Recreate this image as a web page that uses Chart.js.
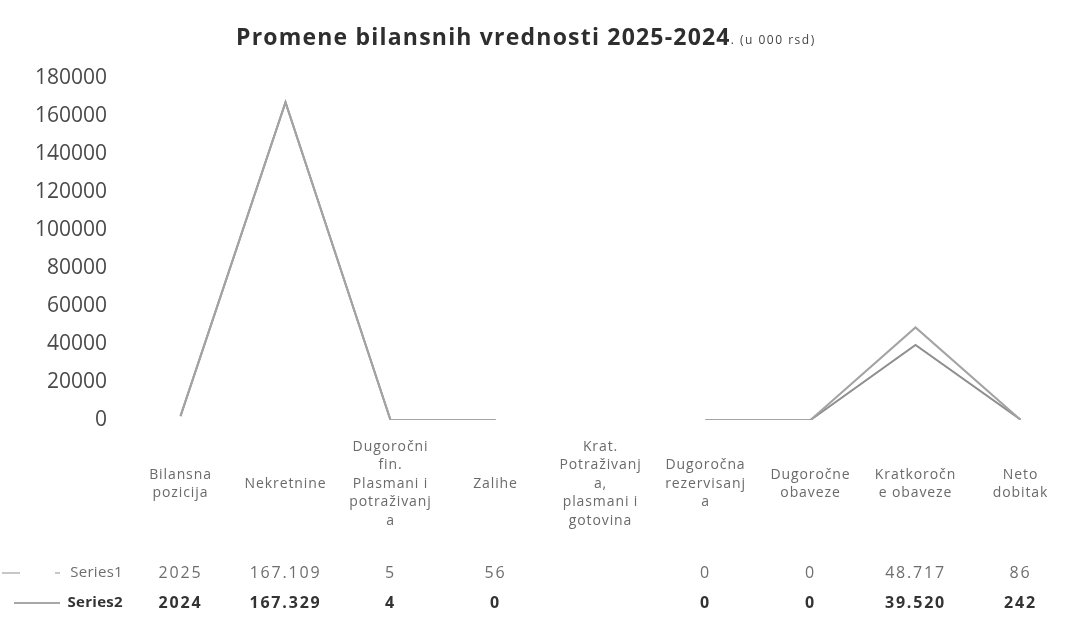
<!DOCTYPE html>
<html>
<head>
<meta charset="utf-8">
<script src="https://cdn.jsdelivr.net/npm/chart.js@4/dist/chart.umd.min.js"></script>
<style>
  html,body{margin:0;padding:0;background:#fff;}
  #wrap{width:1074px;height:628px;position:relative;}
</style>
</head>
<body>
<div id="wrap"><canvas id="c" width="1074" height="628"></canvas></div>
<script>
// ---- data ----
const categories = [
  ["Bilansna","pozicija"],
  ["Nekretnine"],
  ["Dugoročni","fin.","Plasmani i","potraživanj","a"],
  ["Zalihe"],
  ["Krat.","Potraživanj","a,","plasmani i","gotovina"],
  ["Dugoročna","rezervisanj","a"],
  ["Dugoročne","obaveze"],
  ["Kratkoročn","e obaveze"],
  ["Neto","dobitak"]
];
const seriesNames = ["Series1","Series2"];
const series1 = [2025, 167109, 5, 56, null, 0, 0, 48717, 86];
const series2 = [2024, 167329, 4, 0, null, 0, 0, 39520, 242];
const yTicks = [0,20000,40000,60000,80000,100000,120000,140000,160000,180000];
const titleMain = "Promene bilansnih vrednosti 2025-2024";
const titleSub = ". (u 000 rsd)";

function fmt(v, i){
  if (v === null || v === undefined) return "";
  if (i === 0) return String(v);
  return String(v).replace(/\B(?=(\d{3})+(?!\d))/g, ".");
}

const FONT = '"Open Sans", "Noto Sans", sans-serif';

function spaced(ctx, px){ if ('letterSpacing' in ctx) ctx.letterSpacing = px + 'px'; }

const deco = {
  id: 'deco',
  afterDraw(chart){
    const ctx = chart.ctx;
    const xs = chart.scales.x;
    ctx.save();
    // title
    ctx.textBaseline = 'alphabetic';
    ctx.textAlign = 'left';
    ctx.fillStyle = '#2e2e2e';
    ctx.font = 'bold 23px ' + FONT;
    spaced(ctx, 1.2);
    ctx.fillText(titleMain, 236, 45);
    const w = ctx.measureText(titleMain).width;
    ctx.font = '12px ' + FONT;
    spaced(ctx, 1.5);
    ctx.fillStyle = '#444';
    ctx.fillText(titleSub, 236 + w, 44);

    // category header rows
    ctx.textAlign = 'center';
    ctx.textBaseline = 'middle';
    ctx.font = '14px ' + FONT;
    spaced(ctx, 0.9);
    ctx.fillStyle = '#6a6a6a';
    const lh = 18.5;
    categories.forEach((lines, i) => {
      const cx = xs.getPixelForValue(i);
      const y0 = 484 - (lines.length - 1) * lh / 2;
      lines.forEach((t, j) => ctx.fillText(t, cx, y0 + j * lh));
    });

    // value rows
    const rows = [
      {name: seriesNames[0], data: series1, y: 573, bold: false, color: '#6e6e6e', line: '#b5b5b5'},
      {name: seriesNames[1], data: series2, y: 603, bold: true, color: '#333', line: '#8a8a8a'}
    ];
    rows.forEach(r => {
      ctx.font = (r.bold ? 'bold ' : '') + '16px ' + FONT;
      spaced(ctx, 1.8);
      ctx.fillStyle = r.color;
      r.data.forEach((v, i) => {
        ctx.fillText(fmt(v, i), xs.getPixelForValue(i), r.y);
      });
      // legend key
      ctx.textAlign = 'right';
      ctx.font = (r.bold ? 'bold ' : '') + '15px ' + FONT;
      spaced(ctx, 0.3);
      ctx.fillText(r.name, 123, r.y);
      ctx.textAlign = 'center';
      ctx.strokeStyle = r.line;
      ctx.lineWidth = 1.5;
      ctx.beginPath();
      if (r.bold) { ctx.moveTo(14, r.y); ctx.lineTo(60, r.y); }
      else { ctx.moveTo(2, r.y); ctx.lineTo(20, r.y); ctx.moveTo(55, r.y); ctx.lineTo(60, r.y); }
      ctx.stroke();
    });
    ctx.restore();
  }
};

new Chart(document.getElementById('c'), {
  type: 'line',
  data: {
    labels: categories.map(l => l.join(' ')),
    datasets: [
      {label: seriesNames[0], data: series1, borderColor: '#a3a3a3', borderWidth: 2, pointRadius: 0, tension: 0, spanGaps: false},
      {label: seriesNames[1], data: series2, borderColor: '#8e8e8e', borderWidth: 2, pointRadius: 0, tension: 0, spanGaps: false}
    ]
  },
  options: {
    responsive: false,
    animation: false,
    layout: {padding: {top: 78, bottom: 208, left: 0, right: 1}},
    plugins: {legend: {display: false}, title: {display: false}, tooltip: {enabled: false}},
    scales: {
      x: {
        offset: true,
        grid: {display: false, drawTicks: false},
        border: {display: false},
        ticks: {display: false},
        afterFit(s){ s.height = 0; }
      },
      y: {
        min: 0, max: 180000,
        afterBuildTicks(s){ s.ticks = yTicks.map(v => ({value: v})); },
        grid: {display: false, drawTicks: false},
        border: {display: false},
        ticks: {padding: 21, color: '#4a4a4a', font: {size: 21, family: FONT}, callback: v => String(v)},
        afterFit(s){ s.width = 128; }
      }
    }
  },
  plugins: [deco]
});
</script>
</body>
</html>
